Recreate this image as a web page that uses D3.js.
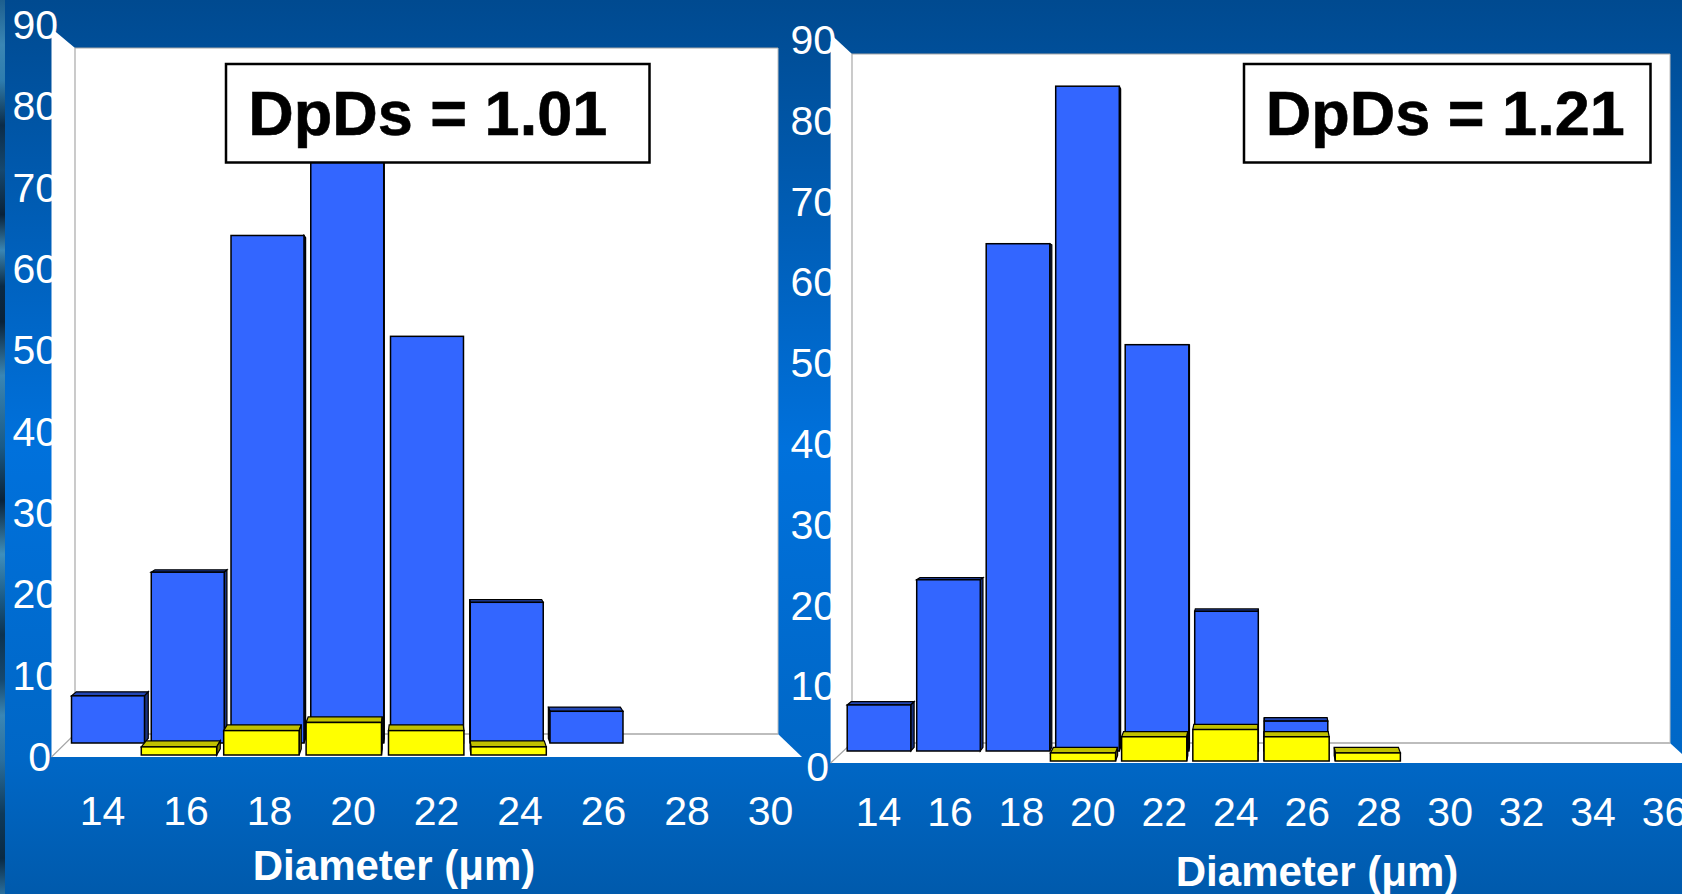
<!DOCTYPE html>
<html>
<head>
<meta charset="utf-8">
<script src="https://cdnjs.cloudflare.com/ajax/libs/d3/7.8.5/d3.min.js"></script>
<style>
  html, body { margin: 0; padding: 0; background: #0062b8; overflow: hidden; }
  text { font-family: "Liberation Sans", Arial, sans-serif; }
</style>
</head>
<body>
<div id="chart"></div>
<script>
const svgWidth = 1682;
const svgHeight = 894;

// values
const yTicks = [0, 10, 20, 30, 40, 50, 60, 70, 80, 90];

const leftDiameters = [14, 16, 18, 20, 22, 24, 26, 28, 30];
const leftBlueX = [14, 16, 18, 20, 22, 24, 26];
const leftBlue = [5.8, 21, 62.4, 82.3, 50, 17.3, 3.9];
const leftYellowX = [16, 18, 20, 22, 24];
const leftYellow = [1, 3, 4, 3, 1];

const rightDiameters = [14, 16, 18, 20, 22, 24, 26, 28, 30, 32, 34, 36];
const rightBlueX = [14, 16, 18, 20, 22, 24, 26];
const rightBlue = [5.7, 21.2, 62.8, 82.3, 50.3, 17.3, 3.7];
const rightYellowX = [20, 22, 24, 26, 28];
const rightYellow = [1, 3, 3.9, 3, 1];

const xTitle = "Diameter (\u03BCm)";

const svg = d3.select("#chart")
  .append("svg")
  .attr("width", svgWidth)
  .attr("height", svgHeight)
  .style("display", "block");

const defs = svg.append("defs");

const bg = defs.append("linearGradient")
  .attr("id", "bg")
  .attr("x1", 0).attr("y1", 0).attr("x2", 0).attr("y2", 1);
[[0, "#004a90"], [0.5, "#0071dc"], [0.85, "#0067c6"], [1, "#005aac"]].forEach(s => {
  bg.append("stop").attr("offset", s[0]).attr("stop-color", s[1]);
});

svg.append("rect")
  .attr("width", svgWidth)
  .attr("height", svgHeight)
  .attr("fill", "url(#bg)");

// textured strip on the left edge of the slide
const strip = defs.append("linearGradient")
  .attr("id", "strip")
  .attr("x1", 0).attr("y1", 0).attr("x2", 0).attr("y2", 1);
[[0, "#1d5f8e"], [0.05, "#3a86b4"], [0.09, "#2f7dae"], [0.14, "#0c2c48"], [0.19, "#16486e"],
 [0.24, "#0a2238"], [0.28, "#3a86b4"], [0.32, "#0b2a44"], [0.36, "#0a2238"], [0.42, "#3a86b4"],
 [0.5, "#1a5a86"], [0.56, "#0a2238"], [0.62, "#3f8fbc"], [0.67, "#1a5a86"], [0.71, "#0d3350"],
 [0.76, "#16486e"], [0.8, "#3a86b4"], [0.85, "#2a6f9e"], [0.91, "#0f3a5a"], [0.96, "#0a2a44"],
 [1, "#2a6f9e"]].forEach(s => {
  strip.append("stop").attr("offset", s[0]).attr("stop-color", s[1]);
});
svg.append("rect")
  .attr("width", 5)
  .attr("height", svgHeight)
  .attr("fill", "url(#strip)");

function drawChart(c) {
  const g = svg.append("g");

  // one scale per depth plane, the front planes spread wider
  const xLabel = d3.scaleLinear().domain([14, c.diameters[c.diameters.length - 1]]).range(c.labelRange);
  const xBlue = d3.scaleLinear().domain([14, 26]).range(c.blueRange);
  const xYellow = d3.scaleLinear().domain([14, 28]).range(c.yellowRange);

  const yAxisScale = d3.scaleLinear().domain([0, 90]).range(c.yAxisRange);
  const unit = (c.yAxisRange[0] - c.yAxisRange[1]) / 90;
  const yBlue = d3.scaleLinear().domain([0, 90]).range([c.blueBase, c.blueBase - 90 * unit]);
  const yYellow = d3.scaleLinear().domain([0, 90]).range([c.yellowBase, c.yellowBase - 90 * unit]);

  // y tick labels sit behind the white side wall
  const yAxis = g.append("g")
    .attr("transform", `translate(${c.yAxisX}, 0)`)
    .call(d3.axisLeft(yAxisScale).tickValues(yTicks).tickSize(0).tickPadding(0));
  yAxis.select(".domain").remove();
  yAxis.selectAll("text")
    .attr("font-size", 41)
    .attr("font-family", "Liberation Sans")
    .attr("fill", "white")
    .attr("dx", d => d === 0 ? -7 : 0);

  // walls and floor
  const f = c.frame;
  g.append("polygon")
    .attr("points", [[f.l0, f.floorY], [f.r0, f.floorY], [f.r1, f.baseY], [f.l1, f.baseY]].join(" "))
    .attr("fill", "white");
  g.append("polygon")
    .attr("points", [[f.l0, f.floorY], [f.l1, f.baseY], [f.l1, f.topY], [f.l0 + 2, f.cornerY], [f.l0, f.cornerY + 6]].join(" "))
    .attr("fill", "white");
  g.append("rect")
    .attr("x", f.l1).attr("y", f.topY)
    .attr("width", f.r1 - f.l1).attr("height", f.baseY - f.topY)
    .attr("fill", "white");
  g.append("path")
    .attr("d", `M${f.l0},${f.floorY}L${f.l1},${f.baseY}L${f.l1},${f.topY}L${f.r1},${f.topY}`)
    .attr("fill", "none").attr("stroke", "#a8a8a8").attr("stroke-width", 1.2);
  g.append("line")
    .attr("x1", f.l1).attr("x2", f.r1).attr("y1", f.baseY).attr("y2", f.baseY)
    .attr("stroke", "#bdbdbd").attr("stroke-width", 2);
  g.append("line")
    .attr("x1", f.r1).attr("x2", f.r1).attr("y1", f.topY).attr("y2", f.baseY)
    .attr("stroke", "#bdbdbd").attr("stroke-width", 1);

  function drawBars(xs, vals, x, y, k, colors) {
    const bars = g.append("g");
    xs.forEach((d, i) => {
      const x0 = x(d - 0.915), x1 = x(d + 0.915);
      const y0 = y(vals[i]), yb = y(0);
      // back corners run towards the vanishing point
      const back = (px, py) => [px + (c.vanish[0] - px) * k, py + (c.vanish[1] - py) * k];
      const bTL = back(x0, y0), bTR = back(x1, y0), bBR = back(x1, yb), bBL = back(x0, yb);

      if (bTL[1] < y0) {
        bars.append("polygon")
          .attr("points", [[x0, y0], [x1, y0], bTR, bTL].join(" "))
          .attr("fill", colors.top).attr("stroke", "black").attr("stroke-width", 1.2);
      }
      if (bTR[0] > x1) {
        bars.append("polygon")
          .attr("points", [[x1, y0], bTR, bBR, [x1, yb]].join(" "))
          .attr("fill", colors.side).attr("stroke", "black").attr("stroke-width", 1.2);
      }
      if (bTL[0] < x0) {
        bars.append("polygon")
          .attr("points", [[x0, y0], bTL, bBL, [x0, yb]].join(" "))
          .attr("fill", colors.side).attr("stroke", "black").attr("stroke-width", 1.2);
      }
      bars.append("rect")
        .attr("x", x0).attr("y", y0)
        .attr("width", x1 - x0).attr("height", yb - y0)
        .attr("fill", colors.front).attr("stroke", "black").attr("stroke-width", 1.5);
    });
  }

  drawBars(c.blueX, c.blue, xBlue, yBlue, c.blueK, { front: "#3366ff", top: "#2347b4", side: "#1a3380" });
  drawBars(c.yellowX, c.yellow, xYellow, yYellow, c.yellowK, { front: "#ffff00", top: "#c0c000", side: "#808000" });

  // x tick labels and title
  const xAxis = g.append("g")
    .attr("transform", `translate(0, ${c.xLabelBase})`)
    .call(d3.axisBottom(xLabel).tickValues(c.diameters).tickSize(0).tickPadding(0));
  xAxis.select(".domain").remove();
  xAxis.selectAll("text")
    .attr("font-size", 41)
    .attr("font-family", "Liberation Sans")
    .attr("fill", "white")
    .attr("y", 0)
    .attr("dy", 0);

  g.append("text")
    .attr("x", c.titleX)
    .attr("y", c.titleY)
    .attr("text-anchor", "middle")
    .attr("font-size", 42)
    .attr("font-weight", "bold")
    .attr("fill", "white")
    .text(xTitle);

  // DpDs box
  g.append("rect")
    .attr("x", c.box[0]).attr("y", c.box[1])
    .attr("width", c.box[2]).attr("height", c.box[3])
    .attr("fill", "white").attr("stroke", "black").attr("stroke-width", 2.5);
  g.append("text")
    .attr("x", c.box[0] + c.box[2] / 2 + c.boxTextDx)
    .attr("y", c.box[1] + 71)
    .attr("text-anchor", "middle")
    .attr("font-size", 63)
    .attr("font-weight", "bold")
    .attr("stroke", "black")
    .attr("stroke-width", 0.6)
    .attr("fill", "black")
    .text(c.label);
}

drawChart({
  diameters: leftDiameters,
  blueX: leftBlueX, blue: leftBlue,
  yellowX: leftYellowX, yellow: leftYellow,
  labelRange: [102, 770],
  blueRange: [108, 586.5],
  yellowRange: [96.6, 673.4],
  yAxisRange: [757.5, 25.5],
  yAxisX: 58,
  blueBase: 743, yellowBase: 755,
  blueK: 0.0134, yellowK: 0.017,
  vanish: [426.5, 397],
  frame: { l0: 51.5, l1: 75, r0: 802, r1: 778, topY: 48, cornerY: 30, baseY: 734, floorY: 757 },
  xLabelBase: 825,
  titleX: 394, titleY: 880,
  box: [226, 64, 423.5, 98.5], boxTextDx: -10,
  label: "DpDs = 1.01"
});

drawChart({
  diameters: rightDiameters,
  blueX: rightBlueX, blue: rightBlue,
  yellowX: rightYellowX, yellow: rightYellow,
  labelRange: [878, 1664],
  blueRange: [879, 1296],
  yellowRange: [869.4, 1367.8],
  yAxisRange: [767.5, 40.5],
  yAxisX: 836,
  blueBase: 751, yellowBase: 761,
  blueK: 0.0095, yellowK: 0.014,
  vanish: [1261, 363],
  frame: { l0: 830.6, l1: 852, r0: 1692, r1: 1670, topY: 54, cornerY: 36, baseY: 743, floorY: 763 },
  xLabelBase: 826,
  titleX: 1317, titleY: 886,
  box: [1244, 64, 406.5, 98.5], boxTextDx: -2,
  label: "DpDs = 1.21"
});
</script>
</body>
</html>
